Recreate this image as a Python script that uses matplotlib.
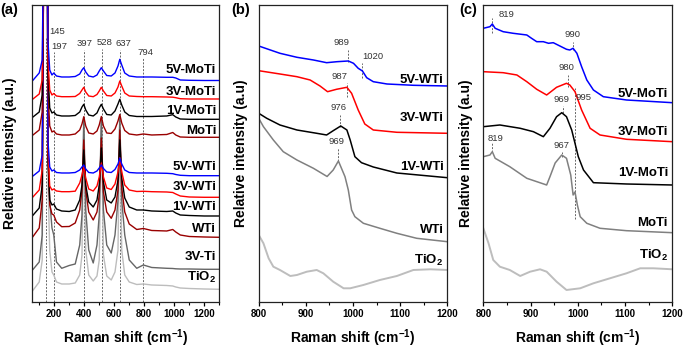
import matplotlib.pyplot as plt
from matplotlib.ticker import MultipleLocator

plt.rcParams['font.family'] = ['Liberation Sans', 'DejaVu Sans']
plt.rcParams['font.weight'] = 'bold'
plt.rcParams['mathtext.fontset'] = 'custom'
plt.rcParams['mathtext.rm'] = 'Liberation Sans:bold'
plt.rcParams['mathtext.it'] = 'Liberation Sans:bold'
plt.rcParams['mathtext.bf'] = 'Liberation Sans:bold'

BLUE, RED, BLACK, DRED = '#0000ff', '#ff0000', '#000000', '#990000'
GREY, DGREY, LGREY = '#808080', '#666666', '#bdbdbd'

# ---- (a) full spectra, all on one shift grid (cm-1), intensities in a.u.
shift_a = [50, 100, 120, 132, 140, 145, 150, 158, 170, 185, 197, 215, 250,
           300, 340, 370, 385, 397, 410, 430, 460, 485, 500, 514, 528, 550,
           580, 605, 625, 637, 650, 670, 700, 750, 794, 850, 950, 990, 1010,
           1040, 1100, 1200, 1300]
a_5v_moti = [220.3, 229, 242, 400, 600, 900, 600, 262, 232, 227, 229, 226, 225,
             225, 225.5, 228, 232, 234.3, 230, 226, 225, 227, 231, 234.3, 231,
             226.5, 226, 229, 236, 242.7, 237, 229, 226, 225, 225, 225, 224.7,
             224.7, 224, 222, 221.7, 221.5, 221.5]
a_3v_moti = [202, 208, 222, 380, 600, 900, 600, 242, 212, 207, 208.5, 206, 205.3,
             205.3, 205.5, 208.5, 212, 214.7, 210, 206, 205.3, 207.5, 211, 214.7,
             211, 206.5, 206, 209, 215, 221, 216, 209, 206, 205.5, 205.3, 205.3,
             205, 204.8, 204.3, 203.3, 203, 203, 203]
a_1v_moti = [184, 190, 207, 380, 600, 900, 600, 232, 194, 189, 190, 187, 186,
             186, 186.5, 190, 195, 197.7, 192, 187, 186, 189, 194, 197.7, 193,
             187.5, 187, 191, 198, 202.7, 197, 190, 186.5, 185.5, 185.5, 185.5,
             186, 187.3, 185, 183, 182.7, 182.7, 182.7]
a_moti = [166, 172, 190, 380, 600, 900, 600, 212, 176, 170, 171, 168, 167,
          167, 168, 172, 178, 185.3, 176, 169, 168, 171, 177, 185.5, 176,
          169, 168.5, 173, 181, 187.5, 179, 171.5, 168, 167, 168, 167, 167.5,
          169.5, 167, 165, 164.7, 164.7, 164.7]
a_5v_wti = [125, 131, 147, 380, 600, 900, 600, 162, 135, 131, 132, 129.5, 129,
            129, 129.5, 132, 135, 137, 133, 129.5, 129, 131, 134, 137, 133.5,
            130, 129.5, 132.5, 138, 144, 138, 132, 129.5, 129, 129, 129, 128.7,
            128.3, 127.5, 126.7, 126.3, 126.3, 126.3]
a_3v_wti = [103.7, 112, 132, 380, 600, 900, 600, 152, 116, 112, 113, 111, 110.3,
            110.3, 110.8, 119, 127, 135.3, 124, 113, 111, 116, 125, 139, 125,
            114, 112.5, 118, 130, 144.3, 130, 117, 112, 110.5, 110.7, 110.3,
            110, 109.5, 108, 106, 105, 104.7, 104.7]
a_1v_wti = [85.3, 94, 117, 400, 600, 900, 600, 142, 102, 97, 98, 93, 91,
            90.5, 92, 102, 117, 152, 117, 100, 95, 102, 117, 154, 120,
            102, 99, 105, 122, 162, 124, 104, 95, 92, 92, 91, 90.5,
            91, 89, 87, 86.5, 86, 86]
a_wti = [63.7, 74, 102, 420, 650, 950, 650, 152, 97, 88, 87, 80, 75.3,
         75.5, 79, 92, 112, 162, 112, 90, 82, 90, 107, 164, 110,
         90, 83.7, 92, 112, 172, 114, 90, 78, 72.5, 73.5, 71.5, 71,
         72.5, 70, 67, 65.5, 65, 64.7]
a_3v_ti = [31, 40, 67, 450, 700, 1000, 700, 152, 102, 74, 67, 40, 33.7,
           36.5, 38, 57, 87, 184, 92, 52, 39, 57, 87, 184, 92,
           57, 49, 67, 102, 185, 102, 67, 42, 33.7, 37, 34.5, 33.7,
           33.5, 33.2, 33, 33, 32.7, 32.7]
a_tio2 = [10, 20, 42, 450, 700, 1000, 700, 122, 52, 30, 27, 20, 18,
          18, 19, 27, 47, 180, 52, 27, 21, 26, 42, 180, 47,
          26, 22, 30, 52, 182, 52, 27, 20, 17.5, 18, 17, 16.5,
          16, 15, 14, 13.5, 13, 12.7]
names_a = ['TiO$_2$', '3V-Ti', 'WTi', '1V-WTi', '3V-WTi', '5V-WTi',
           'MoTi', '1V-MoTi', '3V-MoTi', '5V-MoTi']
series_a = [a_tio2, a_3v_ti, a_wti, a_1v_wti, a_3v_wti, a_5v_wti,
            a_moti, a_1v_moti, a_3v_moti, a_5v_moti]
colors_a = [LGREY, DGREY, DRED, BLACK, RED, BLUE, DRED, BLACK, RED, BLUE]
label_y_a = [24.3, 45.3, 73, 95.3, 115.3, 135.3, 171, 191, 210.3, 232]
peaks_a = [145, 197, 397, 516, 637, 794]
peak_text_a = ['145', '197', '397', '528', '637', '794']

# ---- (b) W series, 800-1200 cm-1
b_5v_x = [800, 845, 881, 916, 944, 966, 990, 1001, 1011, 1020, 1029, 1043,
          1072, 1128, 1200]
b_5v_y = [256, 248.7, 244.7, 242, 239.3, 240.3, 241, 238.7, 233.7, 231, 224.3,
          220.3, 218, 216.7, 216]
b_3v_x = [800, 845, 881, 909, 930, 946, 965, 987, 997, 1011, 1025, 1043, 1093,
          1200]
b_3v_y = [231.3, 228, 225.3, 222, 216, 210.3, 212.7, 214.7, 208.7, 192, 178,
          172, 169.7, 168.7]
b_1v_x = [800, 817, 845, 881, 923, 944, 958, 974, 987, 994, 1004, 1018, 1043,
          1093, 1200]
b_1v_y = [188.7, 183.7, 177, 172, 168.7, 167, 171.3, 176, 172, 162, 145.3,
          139.3, 135, 129, 124.3]
b_wti_x = [800, 810, 831, 852, 881, 916, 945, 958, 969, 983, 990, 997, 1004,
           1022, 1057, 1093, 1135, 1200]
b_wti_y = [183.7, 175.3, 162, 150.3, 142, 133.7, 125.5, 132, 141, 125.3, 112,
           92, 85.3, 78.7, 73.7, 68.7, 63.7, 60.3]
b_tio2_x = [800, 810, 821, 831, 845, 867, 881, 902, 923, 937, 958, 980, 994,
            1022, 1057, 1093, 1128, 1164, 1200]
b_tio2_y = [67, 58.7, 43.7, 35.3, 32, 26, 27, 30.3, 32, 28.7, 20.3, 13.7, 13.7,
            17, 22, 26, 32, 32.7, 32]
names_b = ['TiO$_2$', 'WTi', '1V-WTi', '3V-WTi', '5V-WTi']
label_y_b = [41.3, 72, 135.3, 183.7, 222]
peaks_b = [990, 1018, 987, 973, 969]
peak_text_b = ['989', '1020', '987', '976', '969']

# ---- (c) Mo series, 800-1200 cm-1
c_5v_x = [800, 814, 819, 825, 842, 863, 892, 902, 913, 927, 938, 948, 962, 976,
          983, 990, 998, 1008, 1019, 1033, 1054, 1103, 1200]
c_5v_y = [273.7, 275.3, 278, 273.7, 270.3, 268.7, 267, 263.7, 260.3, 260.3,
          258.7, 259.3, 256, 252.7, 252, 253.7, 248.7, 235.3, 222, 212, 205.3,
          202, 199.3]
c_3v_x = [800, 842, 871, 892, 913, 934, 955, 976, 983, 994, 1008, 1026, 1047,
          1103, 1200]
c_3v_y = [230.3, 229.3, 227, 220.3, 212.7, 207, 214.7, 218.7, 217, 210.3, 192,
          173.7, 167, 162.7, 160.3]
c_1v_x = [800, 835, 878, 906, 927, 941, 955, 966, 976, 987, 994, 1001, 1012,
          1033, 1103, 1200]
c_1v_y = [175.3, 177, 173.7, 170.3, 165.3, 173.7, 185.3, 189.3, 185.3, 172,
          158.7, 145.3, 132, 119.3, 118, 117]
c_moti_x = [800, 814, 819, 825, 856, 892, 934, 941, 952, 966, 976, 985, 990,
            994, 999, 1005, 1019, 1047, 1103, 1200]
c_moti_y = [145.3, 147, 150.3, 143.7, 135.3, 123.7, 117, 125.3, 139, 147,
            143.7, 127, 107, 110, 97, 85.3, 78.7, 73.7, 71.3, 69.3]
c_tio2_x = [800, 811, 821, 835, 856, 878, 899, 920, 934, 955, 976, 1005, 1033,
            1068, 1103, 1132, 1160, 1200]
c_tio2_y = [73.7, 58.7, 42, 35.3, 32, 26, 30.3, 32.7, 30.3, 20.3, 12, 13.7,
            18.7, 23.7, 28.7, 33.7, 33.7, 32.7]
names_c = ['TiO$_2$', 'MoTi', '1V-MoTi', '3V-MoTi', '5V-MoTi']
label_y_c = [47, 78.7, 128.7, 170.3, 207.7]
peaks_c = [819, 990, 980, 995, 969, 819, 967]
peak_text_c = ['819', '990', '980', '995', '969', '819', '967']


def style(ax, xlim, major, minor, ylabel, ylx):
    ax.set_xlim(*xlim)
    ax.set_ylim(0, 297)
    ax.xaxis.set_major_locator(MultipleLocator(major))
    ax.xaxis.set_minor_locator(MultipleLocator(minor))
    ax.set_yticks([])
    ax.tick_params(axis='x', which='major', direction='out', length=3,
                   width=0.9, pad=2, labelsize=7)
    ax.tick_params(axis='x', which='minor', direction='out', length=2.2,
                   width=0.8)
    for s in ax.spines.values():
        s.set_linewidth(0.9)
        s.set_color('#222222')
    ax.text(0.5, -0.121, 'Raman shift (cm$^{-1}$)', transform=ax.transAxes,
            ha='center', va='center', fontsize=10)
    ax.text(ylx, 0.5, ylabel, transform=ax.transAxes, rotation=90,
            ha='center', va='center', fontsize=10)


def peak_marks(ax, xs, texts, spans, text_pos):
    for x, t, (y0, y1), (tx, ty) in zip(xs, texts, spans, text_pos):
        ax.plot([x, x], [y0, y1], ls=(0, (2, 1.5)), lw=0.7, color='#666666',
                zorder=1)
        ax.text(tx, ty, t, ha='center', va='center', fontsize=6.8,
                fontweight='normal', color='#333333')


fig = plt.figure(figsize=(6.85, 3.49), dpi=100)
ax_a = fig.add_axes([0.0463, 0.1347, 0.2738, 0.851])
ax_b = fig.add_axes([0.3777, 0.1347, 0.2753, 0.851])
ax_c = fig.add_axes([0.7056, 0.1347, 0.2759, 0.851])

# (a)
for ys, col in zip(series_a, colors_a):
    ax_a.plot(shift_a, ys, color=col, lw=1.0, zorder=2)
for name, ly in zip(names_a, label_y_a):
    ax_a.text(1280, ly, name, ha='right', va='center', fontsize=9.5)
peak_marks(ax_a, peaks_a, peak_text_a,
           [(0, 264), (0, 250), (0, 252), (0, 253), (0, 252), (0, 244)],
           [(217, 270), (237, 255), (404, 258), (535, 259), (660, 258),
            (810, 249)])
style(ax_a, (50, 1300), 200, 100, 'Relative intensity (a.u.)', -0.116)

# (b)
b_curves = [(b_tio2_x, b_tio2_y, LGREY, 1.4), (b_wti_x, b_wti_y, GREY, 1.1),
            (b_1v_x, b_1v_y, BLACK, 1.1), (b_3v_x, b_3v_y, RED, 1.1),
            (b_5v_x, b_5v_y, BLUE, 1.1)]
for xs, ys, col, lw in b_curves:
    ax_b.plot(xs, ys, color=col, lw=lw, zorder=2)
for name, ly in zip(names_b, label_y_b):
    ax_b.text(1192, ly, name, ha='right', va='center', fontsize=9.5)
peak_marks(ax_b, peaks_b, peak_text_b,
           [(240, 252), (224, 239), (205, 219), (175, 187), (141, 154)],
           [(976, 259), (1042, 245), (971, 225), (969, 194), (964, 160)])
style(ax_b, (800, 1200), 100, 50, 'Relative intensity (a.u)', -0.094)

# (c)
c_curves = [(c_tio2_x, c_tio2_y, LGREY, 1.4), (c_moti_x, c_moti_y, GREY, 1.1),
            (c_1v_x, c_1v_y, BLACK, 1.1), (c_3v_x, c_3v_y, RED, 1.1),
            (c_5v_x, c_5v_y, BLUE, 1.1)]
for xs, ys, col, lw in c_curves:
    ax_c.plot(xs, ys, color=col, lw=lw, zorder=2)
for name, ly in zip(names_c, label_y_c):
    ax_c.text(1191, ly, name, ha='right', va='center', fontsize=9.5)
peak_marks(ax_c, peaks_c, peak_text_c,
           [(269, 284), (252, 260), (215, 227), (83, 214), (189, 196),
            (150, 159), (145, 150)],
           [(850, 287), (989, 267), (975, 234), (1013, 204), (966, 202),
            (825, 163), (966, 156)])
style(ax_c, (800, 1200), 100, 50, 'Relative intensity (a.u)', -0.09)

for tag, x in [('(a)', 0.001), ('(b)', 0.338), ('(c)', 0.670)]:
    fig.text(x, 0.972, tag, ha='left', va='center', fontsize=10.5)

fig.savefig('out.png', dpi=100)
